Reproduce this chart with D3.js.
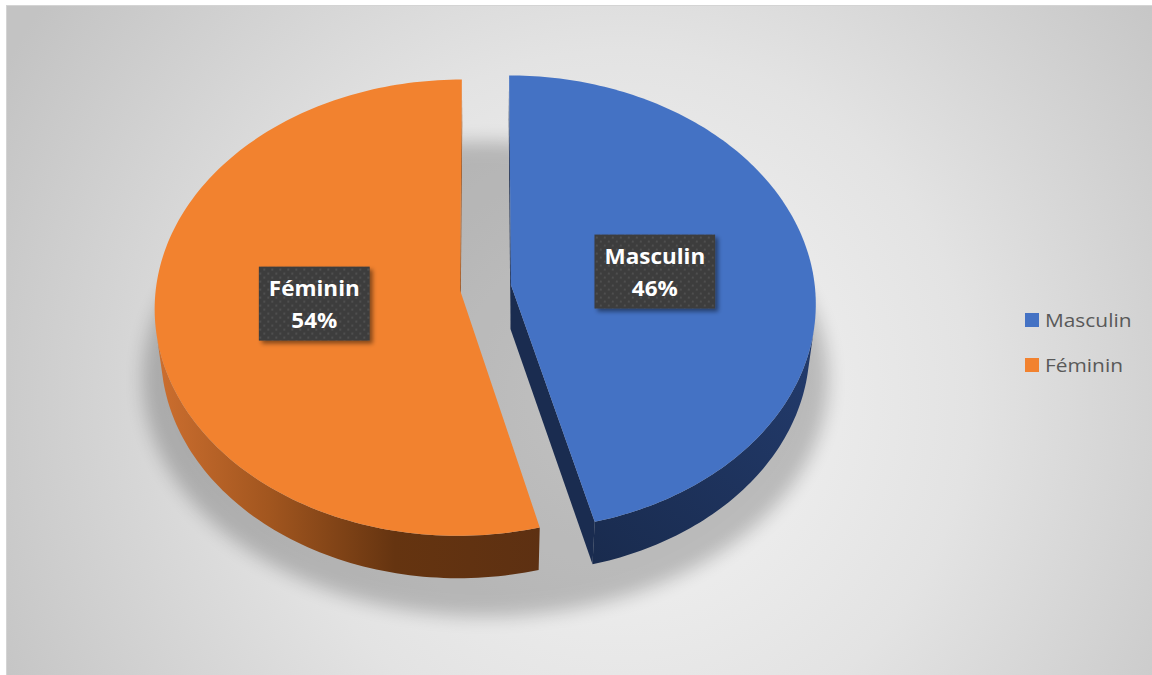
<!DOCTYPE html>
<html><head><meta charset="utf-8">
<script src="https://cdn.jsdelivr.net/npm/d3@7"></script>
<style>html,body{margin:0;padding:0;background:#fff;overflow:hidden} svg{display:block}</style>
</head><body>
<script>
// ---- data ----
const categories = ["Masculin", "Féminin"];
const values = [46, 54];
const pctLabels = ["46%", "54%"];

const W = 1152, H = 675;
const svg = d3.select("body").append("svg").attr("width", W).attr("height", H);
const defs = svg.append("defs");

// background
const bg = defs.append("radialGradient").attr("id", "bg").attr("gradientUnits", "userSpaceOnUse")
  .attr("cx", 620).attr("cy", 400).attr("r", 700);
[[0, "#f6f6f6"], [0.5, "#e3e3e3"], [1, "#c3c3c3"]].forEach(s =>
  bg.append("stop").attr("offset", s[0]).attr("stop-color", s[1]));
svg.append("rect").attr("x", 6.5).attr("y", 5.5).attr("width", W).attr("height", H)
  .attr("fill", "url(#bg)").attr("stroke", "#d4d4d4");

// filters / patterns / gradients
const blur = defs.append("filter").attr("id", "blur").attr("x", "-30%").attr("y", "-30%").attr("width", "160%").attr("height", "160%");
blur.append("feGaussianBlur").attr("stdDeviation", 9);
const ds = defs.append("filter").attr("id", "ds").attr("x", "-20%").attr("y", "-20%").attr("width", "150%").attr("height", "150%");
ds.append("feDropShadow").attr("dx", 3).attr("dy", 3).attr("stdDeviation", 2).attr("flood-color", "#000").attr("flood-opacity", 0.45);
const pat = defs.append("pattern").attr("id", "dots").attr("patternUnits", "userSpaceOnUse").attr("width", 8).attr("height", 8);
pat.append("rect").attr("width", 8).attr("height", 8).attr("fill", "#3d3d3d");
pat.append("circle").attr("cx", 2).attr("cy", 2).attr("r", 0.9).attr("fill", "#575757");
pat.append("circle").attr("cx", 6).attr("cy", 6).attr("r", 0.9).attr("fill", "#575757");

const gO = defs.append("linearGradient").attr("id", "sideO").attr("gradientUnits", "userSpaceOnUse")
  .attr("x1", 150).attr("y1", 0).attr("x2", 545).attr("y2", 0);
[[0, "#cf7030"], [0.3, "#a2561f"], [0.62, "#653410"], [1, "#5d3012"]].forEach(s =>
  gO.append("stop").attr("offset", s[0]).attr("stop-color", s[1]));
const gB = defs.append("linearGradient").attr("id", "sideB").attr("gradientUnits", "userSpaceOnUse")
  .attr("x1", 820).attr("y1", 300).attr("x2", 590).attr("y2", 560);
[[0, "#243d70"], [1, "#192b4e"]].forEach(s =>
  gB.append("stop").attr("offset", s[0]).attr("stop-color", s[1]));

const color = d3.scaleOrdinal().domain(categories).range(["#4472c4", "#f2822f"]);
const sideFill = d3.scaleOrdinal().domain(categories).range(["url(#sideB)", "url(#sideO)"]);
const faceFill = d3.scaleOrdinal().domain(categories).range(["#1a2c50", "#a0541e"]);

// ---- 3D projection ----
const cx = 485.5, cy = 287.5, S = 304, sinP = 0.7446, cosP = Math.sqrt(1 - 0.7446 * 0.7446);
const Lr = 8.58, h = 0.22, explode = 0.0845;
function project(u, v, z) {
  const Y = v * sinP + z * cosP, D = -v * cosP + z * sinP;
  const s = S / (1 - D / Lr);
  return [cx + s * u, cy - s * Y];
}
const cam = [0, -Lr * cosP, Lr * sinP];
const line = d3.line();
const N = 160;

const arcs = d3.pie().sort(null).value(d => d)(values);

// shadow (whole disk below)
const shadowPts = d3.range(0, 361, 2).map(a => {
  const t = a * Math.PI / 180;
  return project(1.16 * Math.sin(t), 1.05 * Math.cos(t), -h - 0.15);
});
svg.append("path").attr("d", line(shadowPts) + "Z").attr("fill", "#000").attr("opacity", 0.21)
  .attr("filter", "url(#blur)");

const sides = svg.append("g"), tops = svg.append("g");

arcs.forEach((a, i) => {
  const cat = categories[i];
  const mid = (a.startAngle + a.endAngle) / 2;
  const ou = explode * Math.sin(mid), ov = explode * Math.cos(mid);
  const ts = d3.range(N + 1).map(k => a.startAngle + (a.endAngle - a.startAngle) * k / N);
  const rim = (t, z) => project(ou + Math.sin(t), ov + Math.cos(t), z);

  // outer wall (visible part)
  const vis = ts.filter(t => {
    const pu = ou + Math.sin(t), pv = ov + Math.cos(t);
    return Math.sin(t) * (cam[0] - pu) + Math.cos(t) * (cam[1] - pv) > 0;
  });
  if (vis.length > 1) {
    const pts = vis.map(t => rim(t, 0)).concat(vis.slice().reverse().map(t => rim(t, -h)));
    sides.append("path").attr("d", line(pts) + "Z").attr("fill", sideFill(cat));
  }
  // radial faces
  [[a.startAngle, -1], [a.endAngle, 1]].forEach(([t, sgn]) => {
    const nu = sgn * Math.cos(t), nv = -sgn * Math.sin(t);
    const pu = ou + 0.5 * Math.sin(t), pv = ov + 0.5 * Math.cos(t);
    const dot = nu * (cam[0] - pu) + nv * (cam[1] - pv);
    if (dot > 0) {
      const pts = [project(ou, ov, 0), rim(t, 0), rim(t, -h), project(ou, ov, -h)];
      sides.append("path").attr("d", line(pts) + "Z").attr("fill", faceFill(cat));
    }
  });
  // top
  const topPts = [project(ou, ov, 0)].concat(ts.map(t => rim(t, 0)));
  tops.append("path").attr("d", line(topPts) + "Z").attr("fill", color(cat));
});

// ---- data labels ----
const labels = svg.append("g");
arcs.forEach((a, i) => {
  const mid = (a.startAngle + a.endAngle) / 2;
  const r = explode + 0.48;
  const [lx, ly] = project(r * Math.sin(mid), r * Math.cos(mid), 0);
  const g = labels.append("g").attr("transform", `translate(${lx},${ly})`);
  const box = g.append("rect").attr("fill", "url(#dots)").attr("filter", "url(#ds)");
  const txt = g.append("text").attr("text-anchor", "middle").attr("fill", "#fff")
    .attr("font-family", "'Open Sans', sans-serif").attr("font-weight", "bold").attr("font-size", 21)
    .attr("transform", "scale(1.07,1)");
  txt.append("tspan").attr("x", 0).attr("y", -8).text(categories[i]);
  txt.append("tspan").attr("x", 0).attr("y", 24).text(pctLabels[i]);
  const w = txt.node().getBBox().width * 1.07 + 20;
  box.attr("x", -w / 2).attr("y", -37).attr("width", w).attr("height", 74);
});

// ---- legend ----
const legend = svg.append("g").attr("transform", "translate(1025,313)");
categories.forEach((c, i) => {
  const g = legend.append("g").attr("transform", `translate(0,${i * 45})`);
  g.append("rect").attr("width", 14).attr("height", 14).attr("fill", color(c));
  g.append("text").attr("x", 20).attr("y", 14).attr("fill", "#595959")
    .attr("font-family", "'Open Sans', sans-serif").attr("font-size", 18.5)
    .attr("transform", "translate(20,0) scale(1.13,1) translate(-20,0)").text(c);
});
</script>
</body></html>
